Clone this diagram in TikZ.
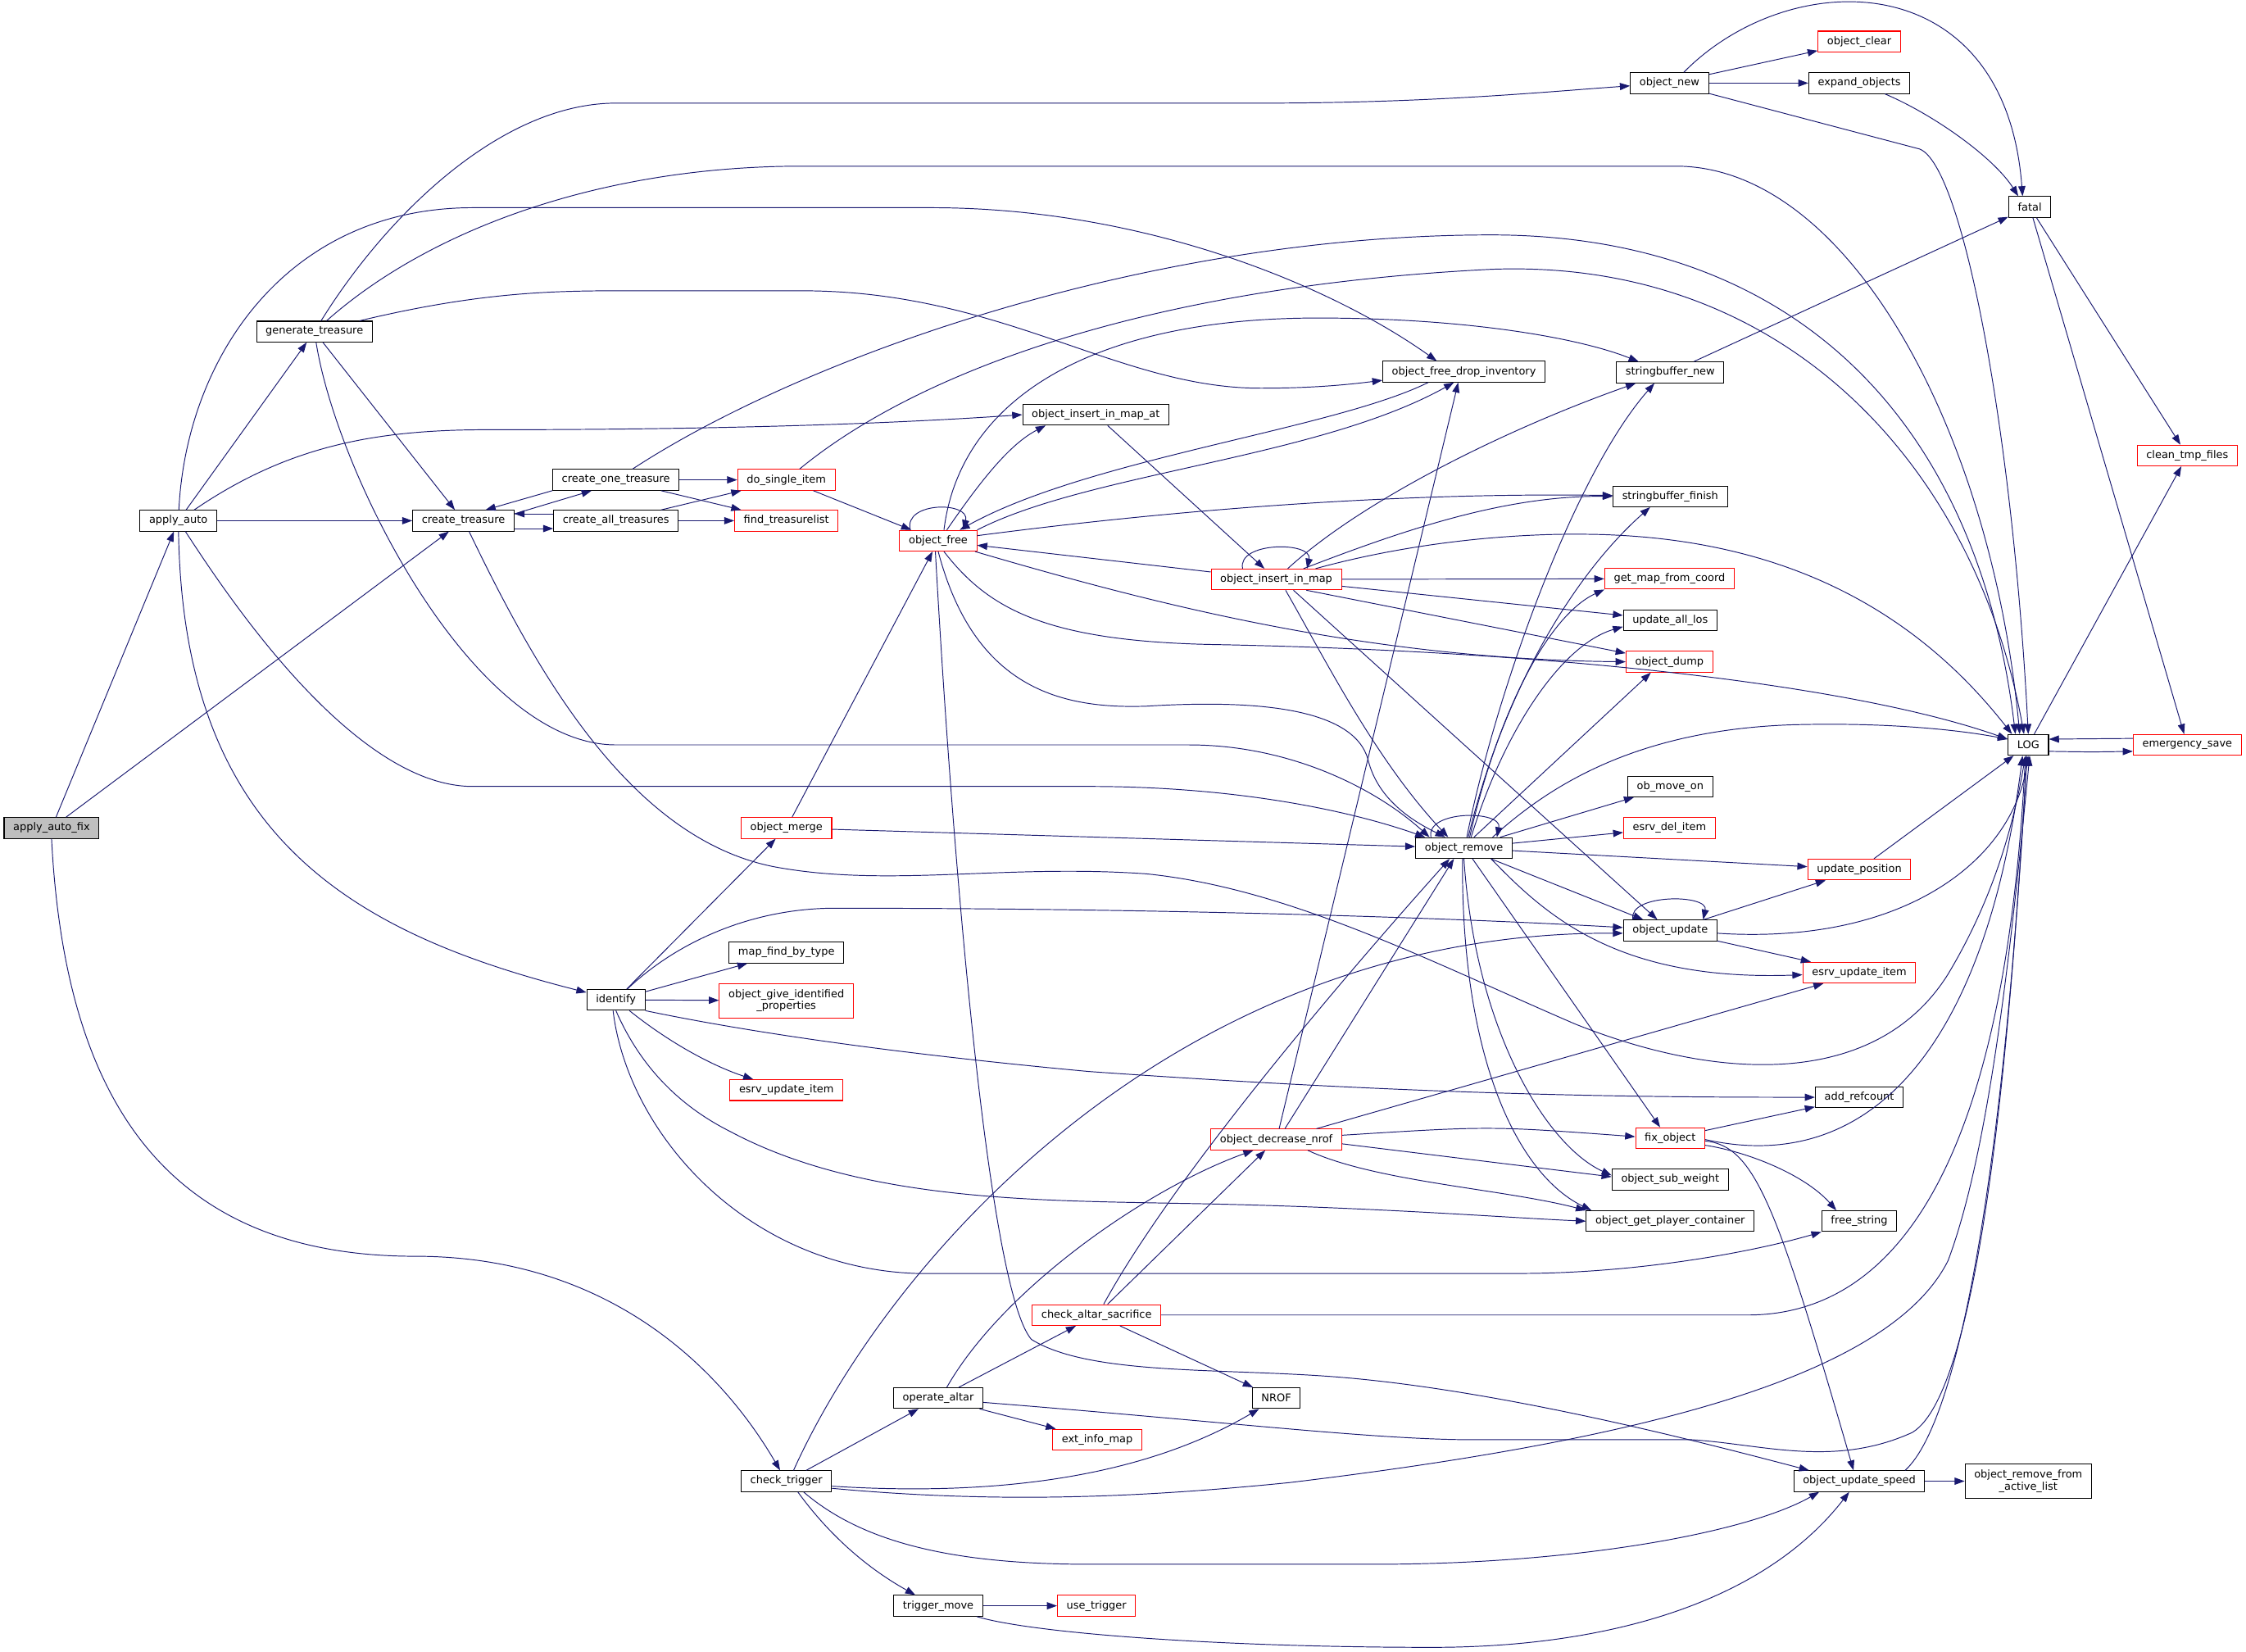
\documentclass[tikz,border=0pt]{standalone}
\usepackage{fontspec}
\setmainfont{DejaVu Sans}
\usepackage{tikz}
\usetikzlibrary{arrows.meta}
\definecolor{edgeblue}{HTML}{191970}
\definecolor{selgray}{HTML}{BFBFBF}
\tikzset{
    fn/.style = {draw=black, line width=0.6pt, fill=white, inner xsep=6.4pt, inner ysep=0pt,
                 minimum height=14.5pt, font=\fontsize{7.4}{8.4}\selectfont},
    fnred/.style = {fn, draw=red},
    fnsel/.style = {fn, fill=selgray},
    fntwo/.style = {align=center, minimum height=24pt},
    edge/.style = {draw=edgeblue, line width=0.55pt, -{Triangle[length=7pt,width=5pt]}}
}

\begin{document}
\begin{tikzpicture}[x=1pt,y=-1pt]
            \fill [white] (0,0) rectangle (1568,1153);
            \useasboundingbox (0,0) rectangle (1568,1153);
        % functions
            \node [fnsel] (aaf)    at (36,578)      {apply\_auto\_fix};
            \node [fn]    (aa)     at (124.5,363.5) {apply\_auto};
            \node [fn]    (gt)     at (219.5,231.5) {generate\_treasure};
            \node [fn]    (ct)     at (323.5,363.5) {create\_treasure};
            \node [fn]    (cot)    at (430,335)     {create\_one\_treasure};
            \node [fn]    (cat)    at (430,363.5)   {create\_all\_treasures};
            \node [fnred] (dsi)    at (549,335)     {do\_single\_item};
            \node [fnred] (ftl)    at (549,363.5)   {find\_treasurelist};
            \node [fnred] (of)     at (655,377.5)   {object\_free};
            \node [fn]    (oima)   at (765,289.5)   {object\_insert\_in\_map\_at};
            \node [fn]    (ofdi)   at (1022,259.5)  {object\_free\_drop\_inventory};
            \node [fn]    (onew)   at (1165.5,58)   {object\_new};
            \node [fnred] (oclr)   at (1298,29)     {object\_clear};
            \node [fn]    (expo)   at (1298,58)     {expand\_objects};
            \node [fn]    (fatal)  at (1417,144.5)  {fatal};
            \node [fn]    (sbn)    at (1166,260)    {stringbuffer\_new};
            \node [fn]    (sbf)    at (1166,346.5)  {stringbuffer\_finish};
            \node [fnred] (ctf)    at (1527,318)    {clean\_tmp\_files};
            \node [fnred] (oim)    at (891,404.5)   {object\_insert\_in\_map};
            \node [fnred] (gmfc)   at (1165.5,404)  {get\_map\_from\_coord};
            \node [fn]    (ualos)  at (1166,433)    {update\_all\_los};
            \node [fnred] (odump)  at (1165.5,462)  {object\_dump};
            \node [fn]    (LOG)    at (1416,520)    {LOG};
            \node [fnred] (esave)  at (1527,520)    {emergency\_save};
            \node [fn]    (obmo)   at (1166,549)    {ob\_move\_on};
            \node [fnred] (edel)   at (1165.5,578)  {esrv\_del\_item};
            \node [fnred] (omerge) at (549,578)     {object\_merge};
            \node [fn]    (orem)   at (1022,592)    {object\_remove};
            \node [fnred] (upos)   at (1298,607)    {update\_position};
            \node [fn]    (oupd)   at (1166,649.5)  {object\_update};
            \node [fn]    (mfbt)   at (549,665)     {map\_find\_by\_type};
            \node [fnred, fntwo] (ogip) at (549,698.5) {object\_give\_identified\\\_properties};
            \node [fn]    (ident)  at (430,698)     {identify};
            \node [fnred] (euiR)   at (1298,679)    {esrv\_update\_item};
            \node [fnred] (euiL)   at (549,761)     {esrv\_update\_item};
            \node [fn]    (addref) at (1298,766)    {add\_refcount};
            \node [fnred] (odn)    at (891,795.5)   {object\_decrease\_nrof};
            \node [fnred] (fixo)   at (1166,794.5)  {fix\_object};
            \node [fn]    (osw)    at (1166,823.5)  {object\_sub\_weight};
            \node [fn]    (ogpc)   at (1166,852.5)  {object\_get\_player\_container};
            \node [fn]    (frees)  at (1298,852.5)  {free\_string};
            \node [fnred] (cas)    at (765.5,918)   {check\_altar\_sacrifice};
            \node [fn]    (nrof)   at (891,976)     {NROF};
            \node [fn]    (oalt)   at (655,976)     {operate\_altar};
            \node [fnred] (eim)    at (766,1005)    {ext\_info\_map};
            \node [fn]    (ctrig)  at (549,1034)    {check\_trigger};
            \node [fn]    (ous)    at (1298,1034)   {object\_update\_speed};
            \node [fn, fntwo] (orfal) at (1416,1034) {object\_remove\_from\\\_active\_list};
            \node [fn]    (tmove)  at (655,1121)    {trigger\_move};
            \node [fnred] (utrig)  at (765.5,1121)  {use\_trigger};
        % apply_auto_fix
            \draw [edge] (aaf) -- (aa);
            \draw [edge] (aaf) -- (ct);
            \draw [edge] (aaf.south) .. controls (45,760) and (110,877) .. (290,877)
                         .. controls (420,877) and (500,950) .. (ctrig);
        % apply_auto
            \draw [edge] (aa) -- (gt);
            \draw [edge] (aa) -- (ct);
            \draw [edge] (aa) .. controls (200,312) and (260,300) .. (340,300)
                         .. controls (500,300) and (620,296) .. (oima.west);
            \draw [edge] (aa) .. controls (130,250) and (200,145) .. (330,145) -- (650,145)
                         .. controls (800,145) and (930,200) .. ([xshift=-19pt]ofdi.north);
            \draw [edge] (aa) .. controls (155,410) and (245,549) .. (330,549) -- (760,549)
                         .. controls (860,549) and (940,565) .. ([xshift=-27pt]orem.north);
            \draw [edge] (aa) .. controls (128,580) and (240,650) .. (ident);
        % generate_treasure
            \draw [edge] (gt) .. controls (270,150) and (350,72) .. (430,72) -- (880,72)
                         .. controls (1000,72) and (1080,64) .. (onew);
            \draw [edge] (gt) .. controls (300,160) and (420,116) .. (560,116) -- (1170,116)
                         .. controls (1290,116) and (1390,300) .. ([xshift=-6pt]LOG.north);
            \draw [edge] (gt) .. controls (330,205) and (380,203) .. (430,203) -- (560,203)
                         .. controls (700,203) and (780,271) .. (880,271)
                         .. controls (920,271) and (945,268) .. ([yshift=-6pt]ofdi.west);
            \draw [edge] (gt) -- (ct);
            \draw [edge] (gt) .. controls (235,330) and (330,520) .. (430,520) -- (830,520)
                         .. controls (900,520) and (960,550) .. ([xshift=-24pt]orem.north);
        % create_treasure and its callers
            \draw [edge] ([yshift=4.8pt]ct.east) -- ([xshift=-17pt]cot.south);
            \draw [edge] ([yshift=-5.5pt]ct.east) -- ([yshift=-5.5pt]cat.west);
            \draw [edge] ([xshift=4pt]ct.south) .. controls (375,470) and (440,585) .. (540,605)
                         .. controls (620,620) and (700,603) .. (800,610)
                         .. controls (900,620) and (1000,672) .. (1100,715)
                         .. controls (1200,755) and (1310,760) .. (1360,680)
                         .. controls (1390,630) and (1405,580) .. ([xshift=-2pt]LOG.south);
            \draw [edge] (cot.south west) -- ([xshift=15.5pt]ct.north);
            \draw [edge] (cot) -- (dsi);
            \draw [edge] (cot) -- (ftl);
            \draw [edge] (cot) .. controls (560,250) and (800,164) .. (1041,164)
                         .. controls (1250,164) and (1380,290) .. ([xshift=-9pt]LOG.north);
            \draw [edge] ([yshift=4.8pt]cat.west) -- ([yshift=4.8pt]ct.east);
            \draw [edge] (cat) -- (dsi);
            \draw [edge] (cat) -- (ftl);
            \draw [edge] (dsi) -- (of);
            \draw [edge] (dsi) .. controls (640,260) and (800,200) .. (1041,188)
                         .. controls (1250,180) and (1380,330) .. ([xshift=-3pt]LOG.north);
        % object_free
            \draw [edge] ([xshift=-19.5pt]of.north) .. controls +(-5,-20) and +(5,-20) .. ([xshift=17.5pt]of.north);
            \draw [edge] ([xshift=6pt]of.north) .. controls (685,335) and (705,310) .. ([xshift=-35pt]oima.south);
            \draw [edge] (of.north east) .. controls (760,330) and (920,320) .. ([xshift=-7pt]ofdi.south);
            \draw [edge] ([xshift=4pt]of.north) .. controls (670,280) and (760,222) .. (920,222)
                         .. controls (1020,222) and (1100,235) .. ([xshift=-22pt]sbn.north);
            \draw [edge] (of) .. controls (850,352) and (1000,344) .. (sbf);
            \draw [edge] (of) .. controls (800,420) and (950,460) .. (odump.west);
            \draw [edge] ([xshift=4pt]of.south) .. controls (690,425) and (730,448) .. (850,450)
                         .. controls (1100,455) and (1300,480) .. ([yshift=4pt]LOG.west);
            \draw [edge] (of.south) .. controls (680,480) and (740,495) .. (800,493)
                         .. controls (880,488) and (945,495) .. (955,530)
                         .. controls (962,560) and (990,575) .. ([xshift=-13pt]orem.north);
            \draw [edge] ([xshift=-2pt]of.south) .. controls (665,600) and (690,900) .. (720,935)
                         .. controls (760,960) and (850,955) .. (930,961)
                         .. controls (1050,970) and (1200,1010) .. ([xshift=-35pt]ous.north);
            \draw [edge] ([xshift=-25pt]ofdi.south) .. controls (930,300) and (760,320) .. ([xshift=15pt]of.north);
            \draw [edge] (oima) -- (oim);
        % object_new
            \draw [edge] (onew) -- (oclr);
            \draw [edge] (onew) -- (expo);
            \draw [edge] ([xshift=10pt]onew.north) .. controls (1250,-25) and (1400,-25) .. ([xshift=-5pt]fatal.north);
            \draw [edge] (onew) -- (1340,104) .. controls (1370,115) and (1405,300) .. (LOG.north);
            \draw [edge] (expo) .. controls (1350,80) and (1392,110) .. ([xshift=-8pt]fatal.north);
            \draw [edge] (fatal) -- (ctf);
            \draw [edge] (fatal) -- (esave);
            \draw [edge] (sbn) -- (fatal);
        % object_insert_in_map
            \draw [edge] ([xshift=-23.5pt]oim.north) .. controls +(-4,-19) and +(4,-19) .. ([xshift=21.5pt]oim.north);
            \draw [edge] (oim) -- (of);
            \draw [edge] ([xshift=8pt]oim.north) .. controls (950,350) and (1050,300) .. ([xshift=-24pt]sbn.south);
            \draw [edge] ([xshift=19pt]oim.north) .. controls (980,370) and (1050,346) .. (sbf.west);
            \draw [edge] (oim) .. controls (980,380) and (1050,372) .. (1110,373)
                         .. controls (1250,375) and (1340,430) .. ([xshift=3pt]LOG.north west);
            \draw [edge] (oim) -- (gmfc);
            \draw [edge] (oim) -- (ualos);
            \draw [edge] ([xshift=21pt]oim.south) -- (odump);
            \draw [edge] ([xshift=6.5pt]oim.south) .. controls (925,460) and (960,530) .. ([xshift=-11pt]orem.north);
            \draw [edge] ([xshift=12pt]oim.south) -- ([xshift=-9pt]oupd.north);
        % object_remove
            \draw [edge] ([xshift=-23pt]orem.north) .. controls +(-4,-19) and +(4,-19) .. ([xshift=23pt]orem.north);
            \draw [edge] ([xshift=2pt]orem.north) .. controls (1045,480) and (1100,330) .. ([xshift=-11pt]sbn.south);
            \draw [edge] ([xshift=3pt]orem.north) .. controls (1050,480) and (1100,400) .. ([xshift=-14pt]sbf.south);
            \draw [edge] ([xshift=4pt]orem.north) .. controls (1045,500) and (1080,430) .. (gmfc.south west);
            \draw [edge] ([xshift=5pt]orem.north) .. controls (1050,510) and (1090,450) .. ([yshift=-4.5pt]ualos.west);
            \draw [edge] ([xshift=7pt]orem.north) -- ([xshift=-13pt]odump.south);
            \draw [edge] ([xshift=20pt]orem.north) .. controls (1080,550) and (1140,510) .. (1250,506)
                         .. controls (1320,504) and (1370,510) .. ([yshift=4pt]LOG.west);
            \draw [edge] (orem) -- (obmo);
            \draw [edge] (orem) -- (edel);
            \draw [edge] (orem) -- (upos);
            \draw [edge] (orem) -- (oupd);
            \draw [edge] ([xshift=19pt]orem.south) .. controls (1080,640) and (1130,685) .. ([yshift=-1.5pt]euiR.west);
            \draw [edge] ([xshift=6pt]orem.south) -- ([xshift=-7pt]fixo.north);
            \draw [edge] (orem.south) .. controls (1030,720) and (1080,800) .. ([yshift=3pt]osw.west);
            \draw [edge] ([xshift=-1pt]orem.south) .. controls (1020,740) and (1060,820) .. ([xshift=-55pt]ogpc.north);
            \draw [edge] (omerge) -- (of);
            \draw [edge] (omerge) -- (orem);
        % object_update, LOG
            \draw [edge] ([xshift=-26pt]oupd.north) .. controls +(-4,-18) and +(4,-18) .. ([xshift=23pt]oupd.north);
            \draw [edge] (oupd) -- (upos);
            \draw [edge] (oupd) -- (euiR);
            \draw [edge] ([yshift=-2pt]oupd.east) .. controls (1330,660) and (1405,600) .. (LOG.south);
            \draw [edge] (upos) -- (LOG);
            \draw [edge] (LOG) -- (ctf);
            \draw [edge] ([yshift=-4.5pt]LOG.east) .. controls (1460,525) .. ([yshift=-4.5pt]esave.west);
            \draw [edge] ([yshift=4.5pt]esave.west) -- ([yshift=4pt]LOG.east);
        % identify
            \draw [edge] (ident) -- (omerge);
            \draw [edge] (ident) .. controls (470,660) and (520,635) .. (580,634)
                         .. controls (800,634) and (1000,640) .. ([yshift=2pt]oupd.west);
            \draw [edge] (ident) -- (mfbt);
            \draw [edge] (ident) -- (ogip);
            \draw [edge] (ident) .. controls (470,730) and (500,745) .. (euiL);
            \draw [edge] (ident.south east) .. controls (520,720) and (620,735) .. (760,748)
                         .. controls (1000,765) and (1150,766) .. (addref.west);
            \draw [edge] (ident.south) .. controls (445,740) and (470,770) .. (510,790)
                         .. controls (600,838) and (720,838) .. (820,840)
                         .. controls (950,842) and (1050,850) .. (ogpc.west);
            \draw [edge] ([xshift=-2pt]ident.south) .. controls (438,790) and (520,885) .. (640,889) -- (1060,889)
                         .. controls (1140,889) and (1220,875) .. (frees.south west);
        % object_decrease_nrof
            \draw [edge] ([xshift=2pt]odn.north) -- ([xshift=-4pt]ofdi.south);
            \draw [edge] ([xshift=6pt]odn.north) -- ([xshift=-7pt]orem.south);
            \draw [edge] ([xshift=28pt]odn.north) -- ([xshift=-25pt]euiR.south);
            \draw [edge] ([yshift=3pt]odn.east) .. controls (1040,786) .. ([yshift=1pt]fixo.west);
            \draw [edge] ([yshift=-3pt]odn.east) -- ([yshift=2pt]osw.west);
            \draw [edge] ([xshift=22pt]odn.south) .. controls (960,825) and (1050,830) .. (ogpc.north west);
        % fix_object, object_update_speed
            \draw [edge] (fixo) -- (addref);
            \draw [edge] ([yshift=-5pt]fixo.east) .. controls (1220,804) and (1260,820) .. ([xshift=-16pt]frees.north);
            \draw [edge] ([yshift=-2pt]fixo.east) .. controls (1225,800) and (1240,840) .. ([xshift=-4pt]ous.north);
            \draw [edge] ([yshift=-1pt]fixo.east) .. controls (1300,820) and (1385,740) .. ([xshift=-4pt]LOG.south);
            \draw [edge] (ous) -- (orfal);
            \draw [edge] ([xshift=32pt]ous.north) .. controls (1370,990) and (1400,800) .. ([xshift=-1pt]LOG.south);
        % altar
            \draw [edge] (cas) -- (odn);
            \draw [edge] ([xshift=5pt]cas.north) .. controls (820,820) and (940,680) .. ([xshift=-10pt]orem.south);
            \draw [edge] (cas) -- (nrof);
            \draw [edge] (cas.east) -- (1220,918) .. controls (1330,918) and (1400,800) .. ([xshift=-2pt]LOG.south);
            \draw [edge] (oalt) -- (cas);
            \draw [edge] (oalt) -- (eim);
            \draw [edge] ([xshift=6pt]oalt.north) .. controls (700,900) and (800,830) .. ([xshift=-16pt]odn.south);
            \draw [edge] ([yshift=-3pt]oalt.east) .. controls (850,992) and (950,1004) .. (1020,1005) -- (1180,1005)
                         .. controls (1230,1008) and (1280,1025) .. (1335,1000)
                         .. controls (1385,970) and (1405,700) .. ([xshift=-1pt]LOG.south);
        % check_trigger, trigger_move
            \draw [edge] (ctrig) -- (oalt);
            \draw [edge] ([xshift=8pt]ctrig.south) .. controls (585,1080) and (615,1100) .. ([xshift=-16pt]tmove.north);
            \draw [edge] ([yshift=-3.5pt]ctrig.east) .. controls (700,1045) and (800,1030) .. ([xshift=-12pt]nrof.south);
            \draw [edge] ([xshift=5pt]ctrig.north) .. controls (620,880) and (820,650) .. ([yshift=-2pt]oupd.west);
            \draw [edge] ([yshift=-5pt]ctrig.east) .. controls (700,1050) and (800,1045) .. (900,1035)
                         .. controls (1150,1005) and (1320,960) .. (1360,880)
                         .. controls (1390,800) and (1405,650) .. ([xshift=1pt]LOG.south);
            \draw [edge] ([xshift=12pt]ctrig.south) .. controls (600,1075) and (660,1092) .. (760,1092) -- (960,1092)
                         .. controls (1100,1092) and (1220,1070) .. ([xshift=-28pt]ous.south);
            \draw [edge] (tmove) -- (utrig);
            \draw [edge] ([xshift=27pt]tmove.south) .. controls (720,1140) and (850,1150) .. (1000,1150)
                         .. controls (1120,1150) and (1230,1120) .. ([xshift=-7pt]ous.south);
\end{tikzpicture}
\end{document}
